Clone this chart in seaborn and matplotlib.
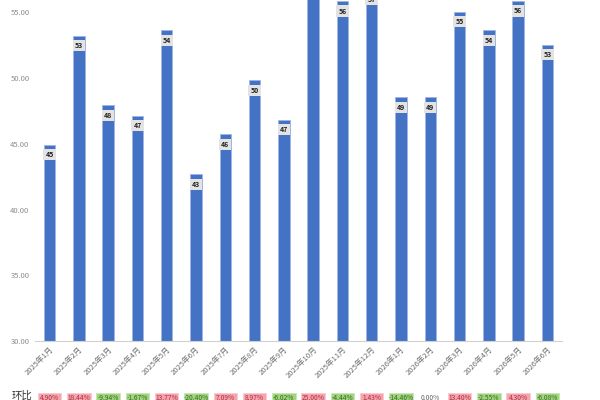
import matplotlib
matplotlib.use('Agg')
import matplotlib.pyplot as plt
import matplotlib.transforms as mtransforms
from matplotlib.patches import Rectangle
import numpy as np
import seaborn as sns

# 月份
months = ['2025年1月', '2025年2月', '2025年3月', '2025年4月', '2025年5月', '2025年6月',
          '2025年7月', '2025年8月', '2025年9月', '2025年10月', '2025年11月', '2025年12月',
          '2026年1月', '2026年2月', '2026年3月', '2026年4月', '2026年5月', '2026年6月']
# 数值
values = [44.95, 53.24, 47.95, 47.15, 53.64, 42.70, 45.73, 49.83, 46.83,
          58.54, 55.87, 56.75, 48.54, 48.54, 55.05, 53.64, 55.88, 52.55]
# 环比
mom = ['4.90%', '18.44%', '-9.94%', '-1.67%', '13.77%', '-20.40%', '7.09%', '8.97%', '-6.02%',
       '25.00%', '-4.44%', '1.43%', '-14.46%', '0.00%', '13.40%', '-2.55%', '4.30%', '-6.08%']
yticks = [30, 35, 40, 45, 50, 55]

sns.set_style('white')
plt.rcParams['font.family'] = ['Noto Sans CJK SC', 'DejaVu Sans']

fig = plt.figure(figsize=(6, 4), dpi=100)
ax = fig.add_axes([0.0583, 0.1475, 0.8784, 0.8525])

sns.barplot(x=months, y=values, color='#4472C4', width=0.39, saturation=1,
            edgecolor='#9db5e0', linewidth=0.6, ax=ax)

ax.set_ylim(30, 55.95)
ax.set_xlim(-0.5, len(months) - 0.5)
ax.set_yticks(yticks)
ax.set_yticklabels([f'{t:.2f}' for t in yticks], fontsize=5.5, color='#8c8c8c')
ax.set_xticks(range(len(months)))
ax.set_xticklabels(months, rotation=45, ha='right', rotation_mode='anchor',
                   fontsize=5.5, color='#6e6e6e')
ax.set_xticks(np.arange(-0.5, len(months), 1), minor=True)
ax.tick_params(axis='x', which='major', length=0, pad=3)
ax.tick_params(axis='x', which='minor', length=3, color='#d0d0d0', width=0.6)
ax.tick_params(axis='y', length=0, pad=4)
ax.set_xlabel('')
ax.set_ylabel('')
for s in ['top', 'right', 'left']:
    ax.spines[s].set_visible(False)
ax.spines['bottom'].set_color('#d0d0d0')
ax.spines['bottom'].set_linewidth(0.8)

# 柱顶数值标签
for i, v in enumerate(values):
    ax.annotate(f'{round(v)}', xy=(i, v), xytext=(0, -10), textcoords='offset pixels',
                ha='center', va='center', fontsize=5, fontweight='bold', color='#222222',
                bbox=dict(boxstyle='square,pad=0.3', fc='#e3e3e3', ec='none'),
                annotation_clip=False, clip_on=True)

# 环比行
trans = mtransforms.blended_transform_factory(ax.transData, ax.transAxes)
for i, p in enumerate(mom):
    val = float(p.rstrip('%'))
    if val > 0:
        fc, ec, tc = '#f7a3ad', '#f9c9ce', '#a8323f'
    elif val < 0:
        fc, ec, tc = '#a2d47f', '#c9e6b3', '#356b22'
    else:
        fc, ec, tc = 'none', 'none', '#666666'
    ax.add_patch(Rectangle((i - 0.4, -0.195), 0.8, 0.043, transform=trans,
                           fc=fc, ec=ec, lw=0.6, clip_on=False))
    ax.text(i, -0.166, p, transform=trans, ha='center', va='center', fontsize=4.8,
            color=tc, clip_on=False)

fig.text(12 / 600, 4 / 400, '环比', fontsize=7.5, color='#333333', ha='left', va='center')

fig.savefig('out.png', dpi=100)
